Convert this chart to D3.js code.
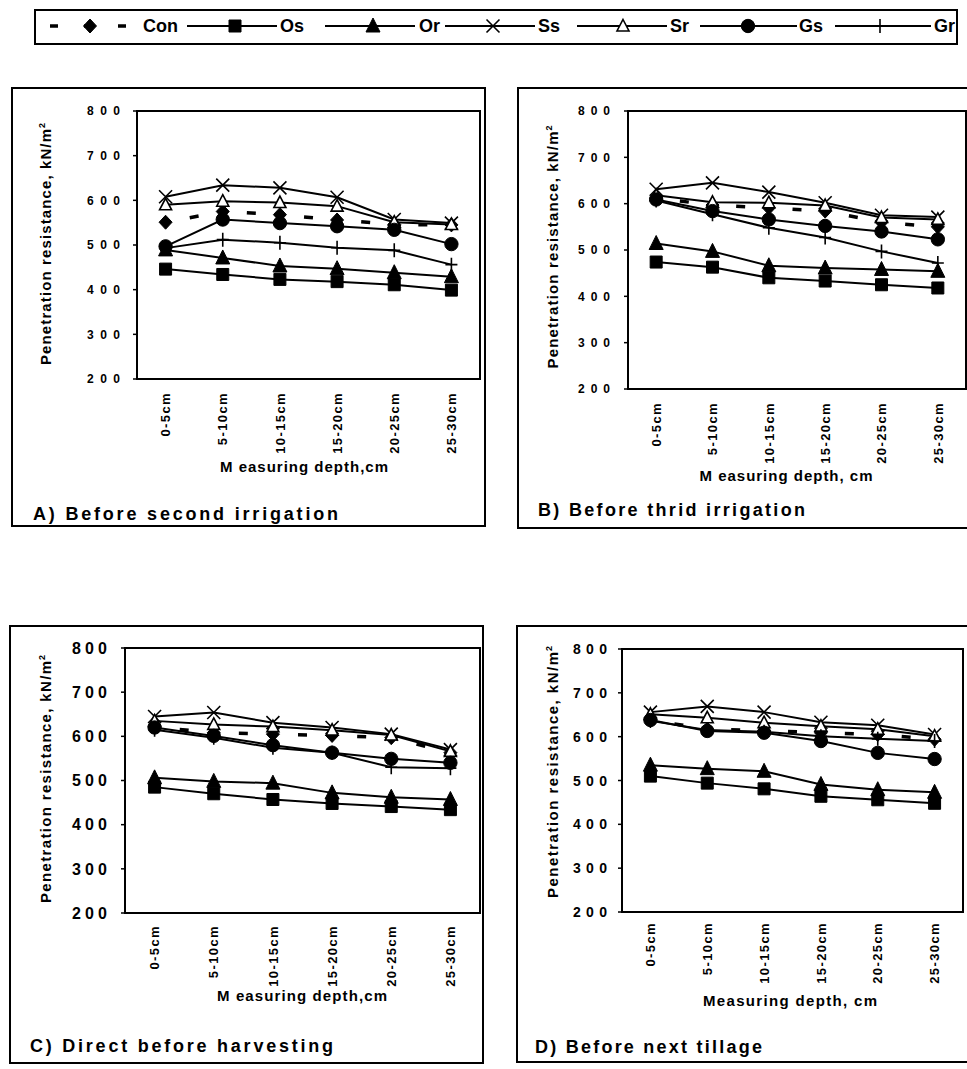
<!DOCTYPE html>
<html>
<head>
<meta charset="utf-8">
<script src="https://cdn.jsdelivr.net/npm/d3@7"></script>
<style>
  body { margin: 0; background: #fff; }
  text { font-family: "Liberation Sans", Arial, sans-serif; fill: #000; }
</style>
</head>
<body>
<svg id="chart" width="967" height="1069"></svg>
<script>
"use strict";

// ---- data (kN/m2) ----
const depths = ["0-5cm", "5-10cm", "10-15cm", "15-20cm", "20-25cm", "25-30cm"];
const treatments = ["Con", "Os", "Or", "Ss", "Sr", "Gs", "Gr"];
const yTicks = [200, 300, 400, 500, 600, 700, 800];

const valuesA = {
  Con: [551, 575, 568, 556, 546, 545],
  Os:  [446, 434, 423, 418, 411, 399],
  Or:  [489, 471, 453, 447, 438, 429],
  Ss:  [608, 634, 628, 607, 557, 549],
  Sr:  [590, 598, 595, 587, 551, 546],
  Gs:  [497, 557, 549, 542, 534, 502],
  Gr:  [493, 512, 505, 494, 488, 456]
};
const valuesB = {
  Con: [612, 597, 591, 584, 560, 550],
  Os:  [474, 463, 440, 433, 425, 418],
  Or:  [514, 497, 466, 461, 458, 454],
  Ss:  [631, 645, 625, 602, 575, 571],
  Sr:  [618, 603, 602, 596, 570, 566],
  Gs:  [609, 584, 566, 552, 540, 523],
  Gr:  [607, 577, 548, 527, 497, 472]
};
const valuesC = {
  Con: [621, 608, 605, 602, 597, 563],
  Os:  [485, 470, 457, 448, 441, 434],
  Or:  [506, 498, 494, 472, 462, 457],
  Ss:  [645, 654, 631, 620, 605, 570],
  Sr:  [635, 627, 622, 614, 603, 566],
  Gs:  [620, 601, 580, 563, 549, 540],
  Gr:  [615, 597, 574, 563, 530, 528]
};
const valuesD = {
  Con: [638, 617, 614, 609, 605, 594],
  Os:  [510, 494, 481, 464, 456, 448],
  Or:  [535, 527, 521, 491, 479, 473],
  Ss:  [656, 669, 656, 633, 626, 605],
  Sr:  [651, 643, 632, 624, 617, 601],
  Gs:  [638, 613, 609, 590, 563, 549],
  Gr:  [636, 615, 611, 601, 595, 590]
};

const panelTitles = ["A) Before second irrigation", "B) Before thrid irrigation",
                     "C) Direct before harvesting", "D) Before next tillage"];
const xTitles = ["M easuring depth,cm", "M easuring depth, cm", "M easuring depth,cm", "Measuring depth, cm"];
const yTitle = "Penetration resistance, kN/m";

// ---- layout of each panel (the scan is not regular) ----
const layout = [
  {values: valuesA, box: [12, 88, 485, 526], plot: [137, 111, 480, 379], tickTop: 392,
   yLab: {right: 120, size: 12, len: 33}, yT: {cx: 46, cy: 247, len: 236},
   xT: {cx: 304, y: 472, len: 168}, t: {x: 33, y: 520, len: 305}},
  {values: valuesB, box: [518, 88, 975, 528], plot: [628, 111, 966, 389], tickTop: 402,
   yLab: {right: 610, size: 12, len: 32}, yT: {cx: 553, cy: 250, len: 237},
   xT: {cx: 786, y: 481, len: 173}, t: {x: 538, y: 516, len: 267}},
  {values: valuesC, box: [10, 626, 483, 1063], plot: [125, 648, 480, 913], tickTop: 925,
   yLab: {right: 107, size: 16, len: 35}, yT: {cx: 46, cy: 782, len: 242},
   xT: {cx: 302, y: 1001, len: 170}, t: {x: 30, y: 1052, len: 303}},
  {values: valuesD, box: [517, 626, 975, 1062], plot: [622, 649, 963, 912], tickTop: 922,
   yLab: {right: 607, size: 14, len: 34}, yT: {cx: 553, cy: 775, len: 246},
   xT: {cx: 790, y: 1006, len: 174}, t: {x: 535, y: 1053, len: 227}}
];

const svg = d3.select("#chart");
svg.append("rect").attr("width", 967).attr("height", 1069).attr("fill", "#fff");

// marker shapes, centred on 0,0
const shapes = {
  Con: {d: "M0,-7L6.5,0L0,7L-6.5,0Z", fill: "#000"},
  Os:  {d: "M-6,-6H6V6H-6Z", fill: "#000"},
  Or:  {d: "M0,-8L7,6H-7Z", fill: "#000"},
  Ss:  {d: "M-6.5,-6.5L6.5,6.5M6.5,-6.5L-6.5,6.5", fill: "none", sw: 1.6},
  Sr:  {d: "M0,-6.5L6,5H-6Z", fill: "#fff", sw: 1.6},
  Gs:  {d: d3.symbol(d3.symbolCircle, 140)(), fill: "#000"},
  Gr:  {d: "M0,-7V7M-6,0H6", fill: "none", sw: 1.6}
};

function marker(g, name, x, y) {
  let s = shapes[name];
  g.append("path")
    .attr("d", s.d)
    .attr("transform", `translate(${x},${y})`)
    .attr("fill", s.fill)
    .attr("stroke", "#000")
    .attr("stroke-width", s.sw || 1);
}

function dashedSegment(g, x0, y0, x1, y1) {
  // one short thick dash in the middle of each segment, as in the scan
  let len = Math.hypot(x1 - x0, y1 - y0);
  g.append("line")
    .attr("x1", x0).attr("y1", y0).attr("x2", x1).attr("y2", y1)
    .attr("stroke", "#000").attr("stroke-width", 3.5)
    .attr("stroke-dasharray", `0,${(len - 9) / 2},9,${len}`);
}

layout.forEach((p, i) => {
  let g = svg.append("g");
  let [bx0, by0, bx1, by1] = p.box;
  g.append("rect")
    .attr("x", bx0).attr("y", by0).attr("width", bx1 - bx0).attr("height", by1 - by0)
    .attr("fill", "none").attr("stroke", "#000").attr("stroke-width", 2);

  let [l, t, r, b] = p.plot;
  let x = d3.scalePoint().domain(depths).range([l, r]).padding(0.5);
  let y = d3.scaleLinear().domain([200, 800]).range([b, t]);

  g.append("rect")
    .attr("x", l).attr("y", t).attr("width", r - l).attr("height", b - t)
    .attr("fill", "none").attr("stroke", "#000").attr("stroke-width", 2);

  // y ticks and labels
  g.selectAll(".ytick").data(yTicks).join("line")
    .attr("x1", l - 4).attr("x2", l).attr("y1", d => y(d)).attr("y2", d => y(d))
    .attr("stroke", "#000").attr("stroke-width", 1.5);
  g.selectAll(".ylab").data(yTicks).join("text")
    .attr("x", p.yLab.right).attr("y", d => y(d)).attr("dy", "0.36em")
    .attr("text-anchor", "end")
    .attr("font-size", p.yLab.size).attr("font-weight", "bold")
    .attr("textLength", p.yLab.len).attr("lengthAdjust", "spacing")
    .text(d => d);

  // x category labels, rotated
  g.selectAll(".xlab").data(depths).join("text")
    .attr("transform", d => `translate(${x(d)},${p.tickTop}) rotate(-90)`)
    .attr("text-anchor", "end").attr("dy", "0.36em")
    .attr("font-size", 13).attr("font-weight", "bold")
    .attr("letter-spacing", 1.4)
    .text(d => d);

  // series
  let line = d3.line().x((d, k) => x(depths[k])).y(d => y(d));
  treatments.forEach(name => {
    let vals = p.values[name];
    if (name === "Con") {
      for (let k = 0; k < vals.length - 1; k++)
        dashedSegment(g, x(depths[k]), y(vals[k]), x(depths[k + 1]), y(vals[k + 1]));
    } else {
      g.append("path").attr("d", line(vals))
        .attr("fill", "none").attr("stroke", "#000").attr("stroke-width", 2);
    }
    vals.forEach((v, k) => marker(g, name, x(depths[k]), y(v)));
  });

  // axis titles
  let yt = g.append("g").attr("transform", `translate(${p.yT.cx},${p.yT.cy}) rotate(-90)`);
  yt.append("text")
    .attr("text-anchor", "middle").attr("dy", "0.36em")
    .attr("font-size", 15).attr("font-weight", "bold")
    .attr("textLength", p.yT.len).attr("lengthAdjust", "spacing")
    .text(yTitle);
  yt.append("text")
    .attr("x", p.yT.len / 2 + 1).attr("y", -1)
    .attr("font-size", 9).attr("font-weight", "bold")
    .text("2");

  g.append("text")
    .attr("x", p.xT.cx).attr("y", p.xT.y).attr("text-anchor", "middle")
    .attr("font-size", 15).attr("font-weight", "bold")
    .attr("textLength", p.xT.len).attr("lengthAdjust", "spacing")
    .text(xTitles[i]);

  g.append("text")
    .attr("x", p.t.x).attr("y", p.t.y)
    .attr("font-size", 18).attr("font-weight", "bold")
    .attr("textLength", p.t.len).attr("lengthAdjust", "spacing")
    .text(panelTitles[i]);
});

// ---- legend ----
const legendItems = [
  {name: "Con", x0: 50, x1: 127, mx: 90, tx: 143},
  {name: "Os", x0: 187, x1: 277, mx: 235, tx: 280},
  {name: "Or", x0: 325, x1: 415, mx: 373, tx: 419},
  {name: "Ss", x0: 445, x1: 535, mx: 493, tx: 538},
  {name: "Sr", x0: 577, x1: 667, mx: 623, tx: 670},
  {name: "Gs", x0: 700, x1: 797, mx: 748, tx: 799},
  {name: "Gr", x0: 835, x1: 931, mx: 880, tx: 934}
];
const lg = svg.append("g");
lg.append("rect").attr("x", 35).attr("y", 10).attr("width", 922).attr("height", 34)
  .attr("fill", "#fff").attr("stroke", "#000").attr("stroke-width", 2);
const ly = 26;
legendItems.forEach(it => {
  if (it.name === "Con") {
    lg.append("line").attr("x1", it.x0).attr("x2", it.x1).attr("y1", ly).attr("y2", ly)
      .attr("stroke", "#000").attr("stroke-width", 3.5).attr("stroke-dasharray", "8,26");
  } else {
    lg.append("line").attr("x1", it.x0).attr("x2", it.x1).attr("y1", ly).attr("y2", ly)
      .attr("stroke", "#000").attr("stroke-width", 2);
  }
  marker(lg, it.name, it.mx, ly);
  lg.append("text").attr("x", it.tx).attr("y", ly).attr("dy", "0.36em")
    .attr("font-size", 18).attr("font-weight", "bold").text(it.name);
});
</script>
</body>
</html>
